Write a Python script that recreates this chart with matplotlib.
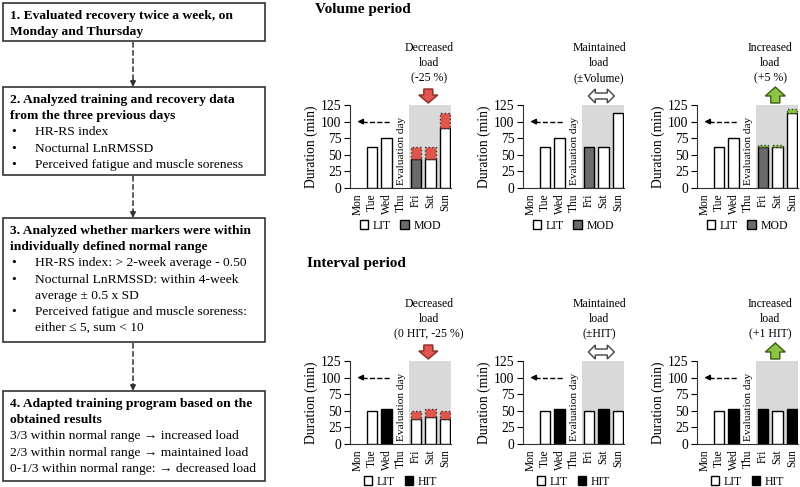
import numpy as np
import matplotlib
matplotlib.use('Agg')
import matplotlib.pyplot as plt
from matplotlib.patches import Rectangle, Polygon, Patch
from matplotlib import transforms

plt.rcParams['font.family'] = ['Liberation Serif', 'DejaVu Serif']
plt.rcParams['font.size'] = 10

days = ['Mon', 'Tue', 'Wed', 'Thu', 'Fri', 'Sat', 'Sun']

# Volume period (min)
vol_dec_base = [0, 62, 75, 0, 44, 44, 90]
vol_dec_extra = [0, 0, 0, 0, 18, 18, 23]
vol_dec_type = ['LIT', 'LIT', 'LIT', 'LIT', 'MOD', 'LIT', 'LIT']

vol_main_base = [0, 62, 75, 0, 62, 62, 113]
vol_main_extra = [0, 0, 0, 0, 0, 0, 0]
vol_main_type = ['LIT', 'LIT', 'LIT', 'LIT', 'MOD', 'LIT', 'LIT']

vol_inc_base = [0, 62, 75, 0, 62, 62, 113]
vol_inc_extra = [0, 0, 0, 0, 3, 3, 6]
vol_inc_type = ['LIT', 'LIT', 'LIT', 'LIT', 'MOD', 'LIT', 'LIT']

# Interval period (min)
int_dec_base = [0, 50, 53, 0, 37, 40, 38]
int_dec_extra = [0, 0, 0, 0, 13, 13, 12]
int_dec_type = ['LIT', 'LIT', 'HIT', 'LIT', 'LIT', 'LIT', 'LIT']

int_main_base = [0, 50, 53, 0, 50, 53, 50]
int_main_extra = [0, 0, 0, 0, 0, 0, 0]
int_main_type = ['LIT', 'LIT', 'HIT', 'LIT', 'LIT', 'HIT', 'LIT']

int_inc_base = [0, 50, 53, 0, 53, 50, 53]
int_inc_extra = [0, 0, 0, 0, 0, 0, 0]
int_inc_type = ['LIT', 'LIT', 'HIT', 'LIT', 'HIT', 'LIT', 'HIT']

type_colors = {'LIT': 'white', 'MOD': '#6b6b6b', 'HIT': 'black'}
RED = '#e0554c'
GREEN = '#8cc63f'
SHADE = '#d9d9d9'

fig = plt.figure(figsize=(8, 4.87), dpi=100)

# ---- flowchart on the left (pixel coordinates) ----
ax0 = fig.add_axes([0, 0, 1, 1])
ax0.set_xlim(0, 800)
ax0.set_ylim(487, 0)
ax0.axis('off')

boxes = [
    (3, 262, 38, [("1. Evaluated recovery twice a week, on", 'b', 0),
                  ("Monday and Thursday", 'b', 0)]),
    (87, 262, 88, [("2. Analyzed training and recovery data", 'b', 0),
                   ("from the three previous days", 'b', 0),
                   ("HR-RS index", 'n', 1),
                   ("Nocturnal LnRMSSD", 'n', 1),
                   ("Perceived fatigue and muscle soreness", 'n', 1)]),
    (218, 262, 124, [("3. Analyzed whether markers were within", 'b', 0),
                     ("individually defined normal range", 'b', 0),
                     ("HR-RS index: > 2-week average - 0.50", 'n', 1),
                     ("Nocturnal LnRMSSD: within 4-week", 'n', 1),
                     ("average \u00b1 0.5 x SD", 'n', 2),
                     ("Perceived fatigue and muscle soreness:", 'n', 1),
                     ("either \u2264 5, sum < 10", 'n', 2)]),
    (391, 262, 90, [("4. Adapted training program based on the", 'b', 0),
                    ("obtained results", 'b', 0),
                    ("3/3 within normal range \u2192 increased load", 'n', 0),
                    ("2/3 within normal range \u2192 maintained load", 'n', 0),
                    ("0-1/3 within normal range: \u2192 decreased load", 'n', 0)]),
]
for top, w, h, lines in boxes:
    ax0.add_patch(Rectangle((3, top), w, h, fill=False, edgecolor='#333333', lw=1.2))
    for i, (txt, style, ind) in enumerate(lines):
        y = top + 13 + i * 16.2
        if ind == 1:
            ax0.text(11, y, '\u2022', va='center', ha='left', fontsize=9.7)
        xt = 10 if ind == 0 else 35
        ax0.text(xt, y, txt, va='center', ha='left', fontsize=9.7,
                 fontweight='bold' if style == 'b' else 'normal')

for y0, y1 in [(41, 87), (175, 218), (342, 391)]:
    ax0.plot([133, 133], [y0 + 1, y1 - 6], ls='--', color='#333333', lw=1.1)
    ax0.annotate('', xy=(133, y1), xytext=(133, y1 - 7),
                 arrowprops=dict(arrowstyle='-|>', color='#333333', lw=1.1,
                                 mutation_scale=8, shrinkA=0, shrinkB=0))

fig.text(315 / 800, 1 - 10 / 487, 'Volume period', fontsize=11, fontweight='bold',
         ha='left', va='center')
fig.text(307 / 800, 1 - 263 / 487, 'Interval period', fontsize=11, fontweight='bold',
         ha='left', va='center')


def block_arrow(ax, x, kind):
    # vertices in display pixels relative to (x, 125)
    if kind == 'down':
        v = [(-4.5, 16), (4.5, 16), (4.5, 10), (9.5, 10), (0, 2), (-9.5, 10), (-4.5, 10)]
        fc, ec = RED, '#8b2a24'
    elif kind == 'up':
        v = [(-4.5, 2), (4.5, 2), (4.5, 9), (10, 9), (0, 18), (-10, 9), (-4.5, 9)]
        fc, ec = GREEN, '#3c5a1a'
    else:
        v = [(-13, 9), (-6, 16), (-6, 12), (6, 12), (6, 16), (13, 9),
             (6, 2), (6, 6), (-6, 6), (-6, 2)]
        fc, ec = 'white', '#444444'
    tr = transforms.Affine2D() + transforms.ScaledTranslation(x, 125, ax.transData)
    ax.add_patch(Polygon(v, closed=True, facecolor=fc, edgecolor=ec, lw=1,
                         transform=tr, clip_on=False, zorder=5))


def draw_panel(ax, base, extra, types, extra_color, second, label, arrow_kind, xtext):
    x = np.arange(len(days))
    ax.axvspan(3.5, 6.5, color=SHADE, lw=0, zorder=0)
    colors = [type_colors[t] for t in types]
    shown = [i for i in x if base[i] > 0]
    ax.bar(x[shown], np.array(base)[shown], width=0.7,
           color=[colors[i] for i in shown], edgecolor='black', lw=1, zorder=2)
    add = [i for i in x if extra[i] > 0]
    if add:
        ax.bar(x[add], np.array(extra)[add], bottom=np.array(base)[add], width=0.7,
               color=extra_color, edgecolor='#333333', ls=':', lw=1, zorder=2)
    ax.set_xlim(-0.5, 6.4)
    ax.set_ylim(0, 125)
    ax.set_yticks(np.arange(0, 126, 25))
    ax.set_xticks(x)
    ax.set_xticklabels(days, rotation=90)
    ax.tick_params(axis='x', length=0, pad=4, labelsize=8.3)
    ax.tick_params(axis='y', direction='out', length=4, pad=2, labelsize=9.8)
    for s in ['top', 'right']:
        ax.spines[s].set_visible(False)
    ax.spines['left'].set_color('#333333')
    ax.spines['bottom'].set_color('#333333')
    ax.set_facecolor('none')
    ax.set_ylabel('Duration (min)', fontsize=9.8, labelpad=2)
    ax.text(3, 4, 'Evaluation day', rotation=90, ha='center', va='bottom', fontsize=8.2)
    ax.plot([0.35, 2.3], [100, 100], ls='--', color='black', lw=1)
    ax.annotate('', xy=(0, 100), xytext=(0.45, 100),
                arrowprops=dict(arrowstyle='-|>', color='black', lw=1,
                                mutation_scale=8, shrinkA=0, shrinkB=0))
    ax.annotate(label, xy=(xtext, 125), xytext=(0, 21), textcoords='offset pixels',
                ha='center', va='bottom', fontsize=8.5, linespacing=1.35,
                annotation_clip=False)
    block_arrow(ax, 4.85, arrow_kind)
    handles = [Patch(facecolor='white', edgecolor='black', label='LIT'),
               Patch(facecolor=type_colors[second], edgecolor='black', label=second)]
    ax.legend(handles=handles, loc='upper center', bbox_to_anchor=(0.5, -0.38),
              ncol=2, frameon=False, fontsize=8.5, handlelength=0.7,
              handleheight=0.7, handletextpad=0.4, columnspacing=0.8,
              borderaxespad=0, borderpad=0)


lefts = [350, 523, 697]
panels = [
    (188, vol_dec_base, vol_dec_extra, vol_dec_type, RED, 'MOD',
     'Decreased\nload\n(-25 %)', 'down', 4.9),
    (188, vol_main_base, vol_main_extra, vol_main_type, None, 'MOD',
     'Maintained\nload\n(\u00b1Volume)', 'both', 4.7),
    (188, vol_inc_base, vol_inc_extra, vol_inc_type, GREEN, 'MOD',
     'Increased\nload\n(+5 %)', 'up', 4.5),
    (444, int_dec_base, int_dec_extra, int_dec_type, RED, 'HIT',
     'Decreased\nload\n(0 HIT, -25 %)', 'down', 4.9),
    (444, int_main_base, int_main_extra, int_main_type, None, 'HIT',
     'Maintained\nload\n(\u00b1HIT)', 'both', 4.7),
    (444, int_inc_base, int_inc_extra, int_inc_type, None, 'HIT',
     'Increased\nload\n(+1 HIT)', 'up', 4.5),
]
for k, (bot, base, extra, types, ecol, second, label, kind, xt) in enumerate(panels):
    left = lefts[k % 3]
    ax = fig.add_axes([left / 800, 1 - bot / 487, 101 / 800, 83 / 487])
    draw_panel(ax, base, extra, types, ecol, second, label, kind, xt)

fig.savefig('out.png', dpi=100)
